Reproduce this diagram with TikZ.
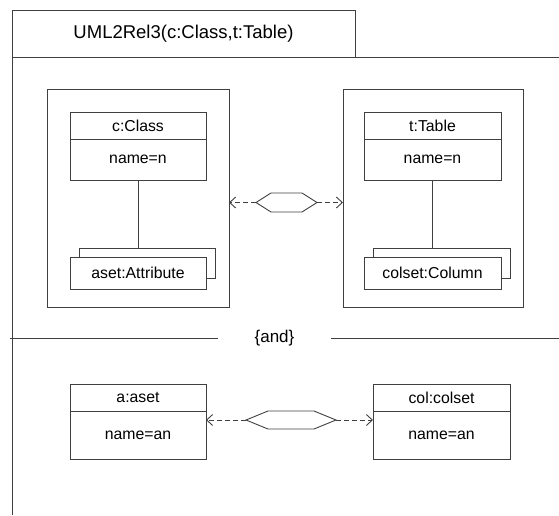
\documentclass[tikz,border=0pt]{standalone}
\usepackage{fontspec}
\setmainfont{Liberation Sans}
\usetikzlibrary{positioning}
\usetikzlibrary{arrows.meta}
\definecolor{lineclr}{RGB}{64,64,64}

\begin{document}
\begin{tikzpicture}[x=1pt,y=-1pt,line width=.9pt,
 frame/.style={draw=lineclr},
 hdr/.style={draw=lineclr,minimum width=343,minimum height=47,inner sep=0,outer sep=0,font=\fontsize{18.5}{22}\selectfont},
 container/.style={draw=lineclr,minimum width=182,minimum height=218,inner sep=0,outer sep=0},
 objtitle/.style={draw=lineclr,fill=white,minimum width=136,minimum height=27,inner sep=0,outer sep=0,font=\fontsize{15.8}{19}\selectfont},
 objbody/.style={objtitle,minimum height=41},
 objback/.style={draw=lineclr,minimum width=136,minimum height=30,inner sep=0,outer sep=0},
 link/.style={draw=lineclr,dash pattern=on 5pt off 3pt,-{Straight Barb[length=6pt,width=11pt]}}]
\useasboundingbox (0,0) rectangle (559,515);

\node[hdr] (hdr) at (183.5,33.5) {UML2Rel3(c:Class,t:Table)};
\draw[frame] (hdr.south east) -- (559,57);
\draw[frame] (hdr.south west) -- (12,515);

\node[container] (lhs) at (138,198) {};
\node[container,minimum width=180] (rhs) at (433,198) {};

\node[objtitle] (cls) at (138,125.5) {c:Class};
\node[objbody,below=0pt of cls] (clsbody) {name=n};
\node[objback] (attrbk) at (147,263) {};
\node[objtitle,minimum height=32] (attr) at (138,273) {aset:Attribute};
\draw[frame] (clsbody.south) -- (clsbody.south |- attrbk.north);

\node[objtitle,minimum width=137] (tbl) at (432.5,125.5) {t:Table};
\node[objbody,minimum width=137,below=0pt of tbl] (tblbody) {name=n};
\node[objback,minimum width=137] (colbk) at (441.5,263) {};
\node[objtitle,minimum width=137,minimum height=32] (col) at (432.5,273) {colset:Column};
\draw[frame] (tblbody.south) -- (tblbody.south |- colbk.north);

\coordinate (hexAl) at (256,202.5);
\coordinate (hexAr) at (317,202.5);
\draw[frame] (hexAl) -- (271,193) -- (302,193) -- (hexAr) -- (302,212) -- (271,212) -- cycle;
\draw[link] (hexAl) -- (hexAl -| lhs.east);
\draw[link] (hexAr) -- (hexAr -| rhs.west);

\node[font=\fontsize{17}{20}\selectfont,minimum width=113,inner sep=0,outer sep=0] (andsep) at (274.5,338) {\{and\}};
\draw[frame] (10,338) -- (andsep.west);
\draw[frame] (andsep.east) -- (559,338);

\node[objtitle] (aset) at (138,397.5) {a:aset};
\node[objbody,minimum height=48,below=0pt of aset] (asetbody) {name=an};
\node[objtitle,minimum width=137] (colset) at (441.5,397.5) {col:colset};
\node[objbody,minimum width=137,minimum height=48,below=0pt of colset] (colsetbody) {name=an};

\coordinate (hexBl) at (246,420);
\coordinate (hexBr) at (336,420);
\draw[frame] (hexBl) -- (268,411) -- (314,411) -- (hexBr) -- (314,429) -- (268,429) -- cycle;
\draw[link] (hexBl) -- (hexBl -| asetbody.east);
\draw[link] (hexBr) -- (hexBr -| colsetbody.west);
\end{tikzpicture}
\end{document}
